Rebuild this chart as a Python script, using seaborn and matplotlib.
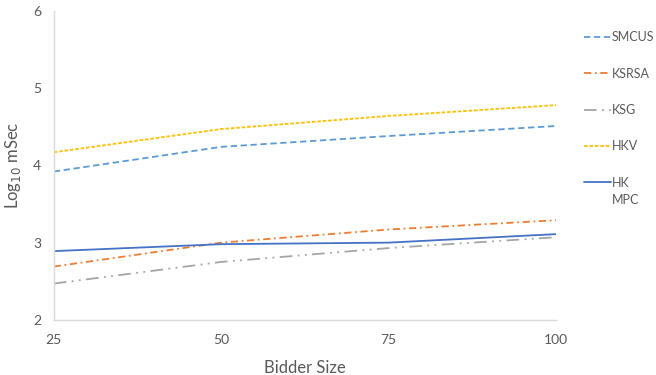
import matplotlib
matplotlib.use("Agg")
import matplotlib.pyplot as plt
import pandas as pd
import seaborn as sns

# Values
bidder_size = [25, 50, 75, 100]
smcus = [3.92, 4.24, 4.38, 4.51]
ksrsa = [2.69, 3.00, 3.17, 3.29]
ksg = [2.47, 2.75, 2.93, 3.07]
hkv = [4.17, 4.47, 4.64, 4.78]
hk_mpc = [2.89, 2.98, 3.00, 3.11]

series = {
    "SMCUS": smcus,
    "KSRSA": ksrsa,
    "KSG": ksg,
    "HKV": hkv,
    "HK": hk_mpc,
}
colors = {
    "SMCUS": "#5B9BD5",
    "KSRSA": "#ED7D31",
    "KSG": "#A5A5A5",
    "HKV": "#FFC000",
    "HK": "#4472C4",
}
dashes = {
    "SMCUS": (3.5, 2),
    "KSRSA": (4, 2, 1, 2),
    "KSG": (7, 3, 1, 3, 1, 3),
    "HKV": (2, 1),
    "HK": "",
}

data = pd.DataFrame(
    [(k, x, v) for k, vals in series.items() for x, v in zip(bidder_size, vals)],
    columns=["series", "bidder", "value"],
)

sns.set_style("white")
plt.rcParams["font.family"] = ["Lato", "DejaVu Sans"]

fig = plt.figure(figsize=(6.56, 3.75), dpi=100)
ax = fig.add_axes([0.082, 0.147, 0.766, 0.824])

sns.lineplot(
    data=data, x="bidder", y="value", hue="series", style="series",
    palette=colors, dashes=dashes, linewidth=1.3, ax=ax,
)

ax.set_xlim(25, 100)
ax.set_ylim(2, 6)
ax.set_xticks(bidder_size)
ax.set_yticks([2, 3, 4, 5, 6])
ax.tick_params(axis="y", length=0, labelsize=10, colors="#595959", pad=9)
ax.tick_params(axis="x", length=0, labelsize=10, colors="#595959", pad=10)
ax.set_xlabel("Bidder Size", fontsize=12, color="#595959", labelpad=10)
ax.set_ylabel("Log$_{10}$ mSec", fontsize=12, color="#595959", labelpad=7)
for side in ["top", "right"]:
    ax.spines[side].set_visible(False)
for side in ["left", "bottom"]:
    ax.spines[side].set_color("#D9D9D9")
    ax.spines[side].set_linewidth(1)

handles, labels = ax.get_legend_handles_labels()
leg = ax.legend(
    handles, labels, loc="upper left", bbox_to_anchor=(1.045, 0.95),
    frameon=False, fontsize=9, labelspacing=1.95, handlelength=2.2,
    handletextpad=0.05, borderaxespad=0,
)
for t in leg.get_texts():
    t.set_color("#595959")

# second line of the "HK MPC" legend entry sits under "HK"
fig.canvas.draw()
hk_text = leg.get_texts()[-1]
bb = hk_text.get_window_extent().transformed(fig.transFigure.inverted())
fig.text(bb.x0, bb.y0 - 0.014, "MPC", fontsize=9, color="#595959",
         ha="left", va="top")

fig.savefig("out.png", dpi=100)
